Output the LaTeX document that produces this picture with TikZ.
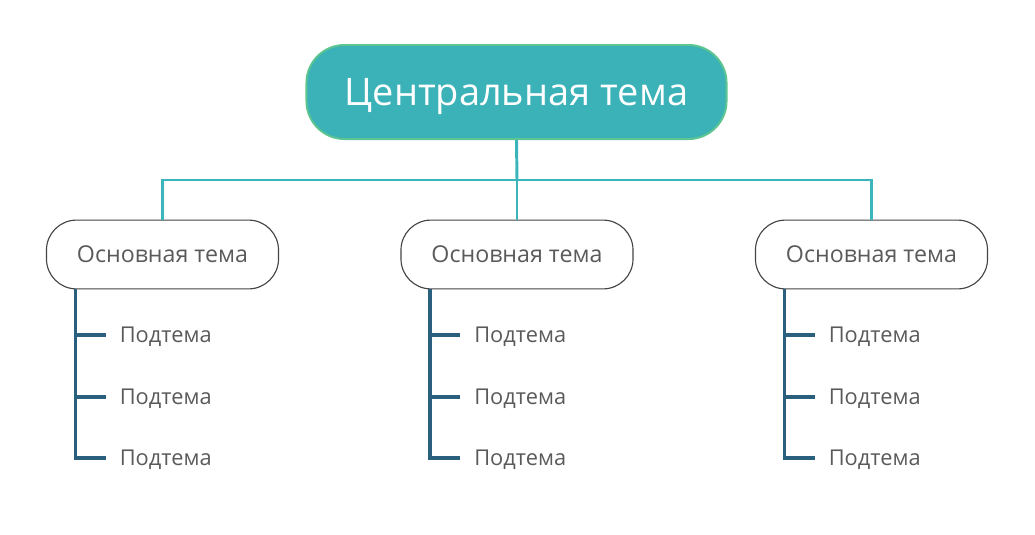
\documentclass[tikz,border=0pt]{standalone}
\usepackage{fontspec}
\setmainfont{Open Sans}

\definecolor{centralfill}{HTML}{3BB2B8}
\definecolor{centraledge}{HTML}{5DC590}
\definecolor{linkcol}{HTML}{3BB5BC}
\definecolor{subcol}{HTML}{2B5F7E}
\definecolor{textgray}{HTML}{5A5A5A}
\definecolor{edgegray}{HTML}{444444}

\begin{document}
\begin{tikzpicture}[x=0.025cm, y=-0.025cm,
  central/.style={draw=centraledge, fill=centralfill, line width=1.4pt, rounded corners=0.95cm,
                  minimum width=10.5cm, minimum height=2.35cm, text=white, text height=19.4pt, text depth=0pt,
                  font=\fontsize{27}{30}\selectfont},
  maintopic/.style={draw=edgegray, fill=white, line width=0.8pt, rounded corners=0.75cm,
                  minimum width=5.8cm, minimum height=1.72cm, text=textgray, text height=11.9pt, text depth=0pt,
                  font=\fontsize{16.5}{19}\selectfont},
  subtopic/.style={anchor=west, inner xsep=0.35cm, inner ysep=2pt, text=textgray, text height=11.2pt, text depth=0pt,
                  font=\fontsize{15.5}{18}\selectfont},
  link/.style={draw=linkcol, line width=2.1pt},
  subline/.style={draw=subcol, line width=2.2pt}]

  \useasboundingbox (0,0) rectangle (1035,534);

  % ---------------- central topic ----------------
  \node[central] (central) at (516.5,92) {Центральная тема};
  \coordinate (bus) at (517,180);

  % ---------------- main topics with their subtopics ----------------
  \foreach \b/\x in {1/162.5, 2/517, 3/871.5} {
    \node[maintopic] (main\b) at (\x,254.5) {Основная тема};
    \coordinate (branch\b) at (\x-87,289);
    \node[subtopic] (sub\b1) at (\x-57,335) {Подтема};
    \node[subtopic] (sub\b2) at (\x-57,397) {Подтема};
    \node[subtopic] (sub\b3) at (\x-57,458) {Подтема};
    \draw[subline] (branch\b) |- (sub\b3.west);
    \draw[subline] (branch\b |- sub\b1.west) -- (sub\b1.west);
    \draw[subline] (branch\b |- sub\b2.west) -- (sub\b2.west);
  }

  % ---------------- connectors central -> main ----------------
  \draw[link] (central.south) -- (bus);
  \draw[link] (main1.north) |- (bus) -| (main3.north);
  \draw[link] (bus) -- (main2.north);
\end{tikzpicture}
\end{document}
